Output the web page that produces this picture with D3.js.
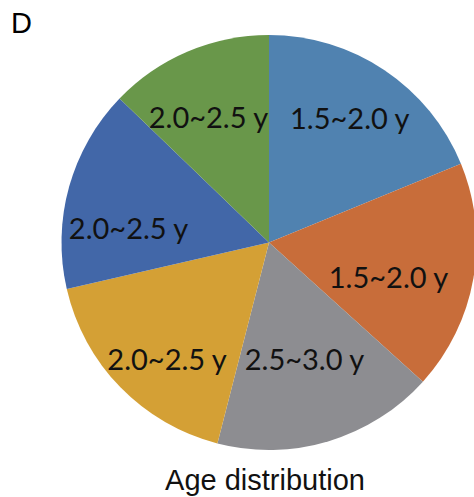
<!DOCTYPE html>
<html>
<head>
<meta charset="utf-8">
<script src="https://cdn.jsdelivr.net/npm/d3@7"></script>
<style>
  html, body { margin: 0; padding: 0; background: #fff; }
  svg { display: block; }
</style>
</head>
<body>
<svg id="chart" width="474" height="497"></svg>
<script>
// Age groups, clockwise from 12 o'clock
const categories = ["1.5~2.0 y", "1.5~2.0 y", "2.5~3.0 y", "2.0~2.5 y", "2.0~2.5 y", "2.0~2.5 y"];
// Share of each slice (%)
const values = [18.8, 17.9, 17.3, 17.4, 15.8, 12.8];
const colors = ["#5082b0", "#c86d3a", "#8d8d91", "#d4a035", "#4267a8", "#69974a"];

// Label placement: turn away from the slice's mid-angle (degrees) and distance as a fraction of the radius
const labelTurn = [-0.5, 7, 0, -5, -10, -3];
const labelDist = [0.708, 0.602, 0.593, 0.753, 0.68, 0.665];

const svg = d3.select("#chart");
const cx = 269, cy = 242.5, R = 207.5;

const pie = d3.pie().sort(null).value(d => d.v);
const arcs = pie(values.map((v, i) => ({ v, i, label: categories[i], color: colors[i] })));
const arc = d3.arc().innerRadius(0).outerRadius(R);

const g = svg.append("g").attr("transform", `translate(${cx},${cy})`);

g.selectAll("path.slice")
  .data(arcs)
  .join("path")
  .attr("class", "slice")
  .attr("d", arc)
  .attr("fill", d => d.data.color);

const labelPos = d => {
  const a = (d.startAngle + d.endAngle) / 2 + labelTurn[d.data.i] * Math.PI / 180;
  const r = labelDist[d.data.i] * R;
  return [Math.sin(a) * r, -Math.cos(a) * r];
};

g.selectAll("text.lbl")
  .data(arcs)
  .join("text")
  .attr("class", "lbl")
  .attr("text-anchor", "middle")
  .attr("font-family", "Lato, 'Open Sans', sans-serif")
  .attr("font-size", 29)
  .attr("fill", "#111")
  .attr("x", d => labelPos(d)[0])
  .attr("y", d => labelPos(d)[1])
  .attr("dy", "0.33em")
  .text(d => d.data.label);

// Panel letter
svg.append("text")
  .attr("x", 11).attr("y", 33)
  .attr("font-family", "'Liberation Sans', Arial, sans-serif")
  .attr("font-size", 29)
  .attr("fill", "#000")
  .text("D");

// Caption
svg.append("text")
  .attr("x", 265).attr("y", 490)
  .attr("text-anchor", "middle")
  .attr("font-family", "'Liberation Sans', Arial, sans-serif")
  .attr("font-size", 29)
  .attr("fill", "#111")
  .text("Age distribution");
</script>
</body>
</html>
